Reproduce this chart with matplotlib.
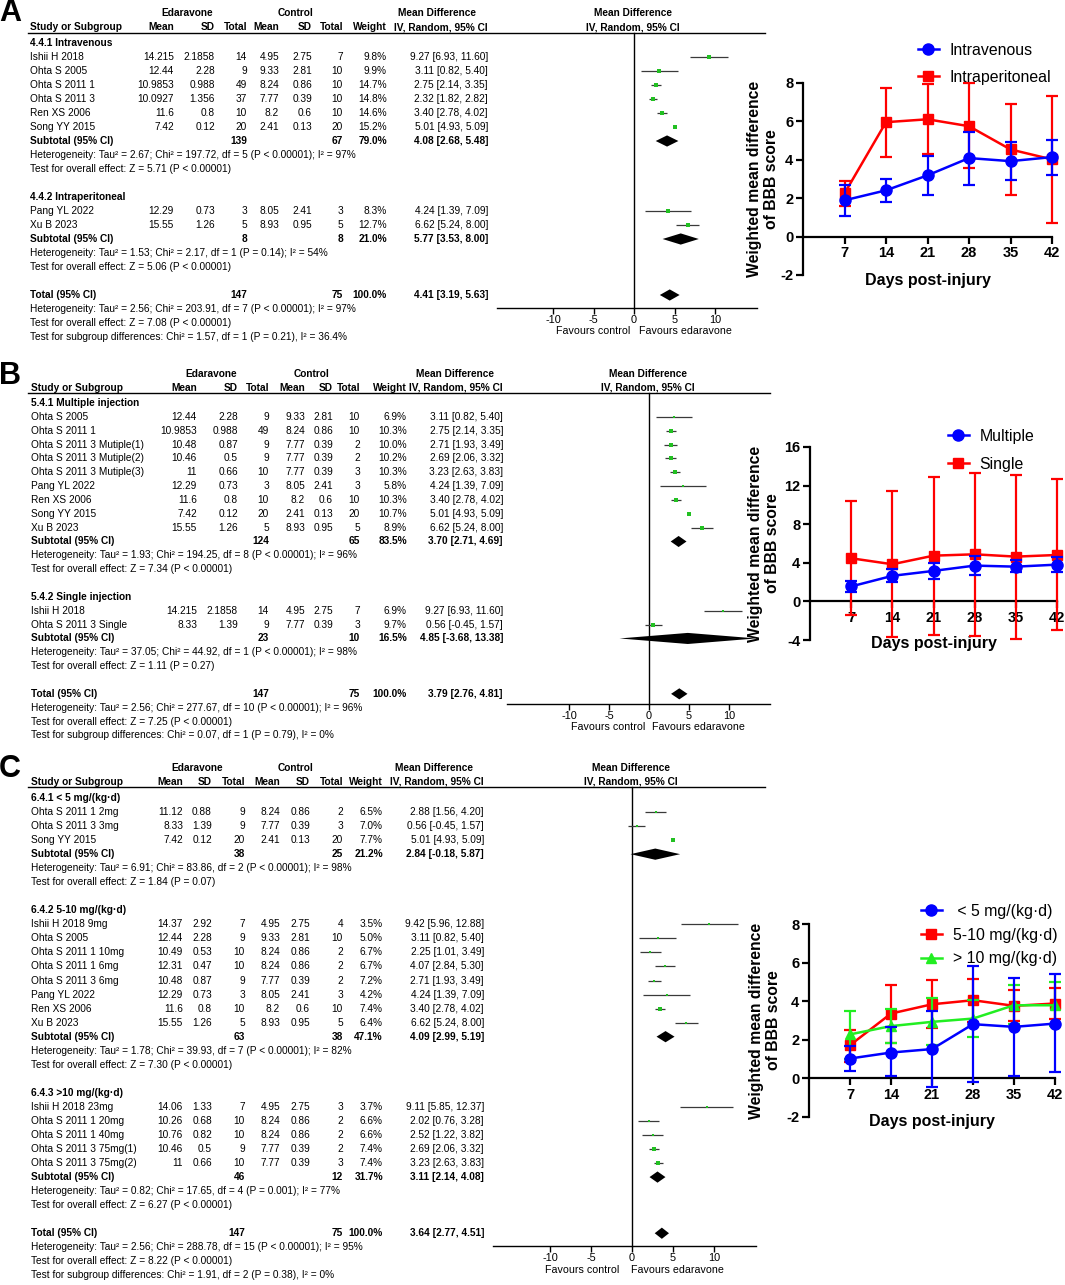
import matplotlib
matplotlib.use('Agg')
import matplotlib.pyplot as plt
from matplotlib import transforms
from matplotlib.lines import Line2D

plt.rcParams['font.family'] = ['Liberation Sans', 'DejaVu Sans']

#-----------------------------------------------------------------
#---                     Forest data                           ---
#-----------------------------------------------------------------
# (study, edaravone mean, sd, total, control mean, sd, total, weight %, MD, lower, upper)
a_iv_rows = [
    ("Ishii H 2018", 14.215, 2.1858, 14, 4.95, 2.75, 7, 9.8, 9.27, 6.93, 11.60),
    ("Ohta S 2005", 12.44, 2.28, 9, 9.33, 2.81, 10, 9.9, 3.11, 0.82, 5.40),
    ("Ohta S 2011 1", 10.9853, 0.988, 49, 8.24, 0.86, 10, 14.7, 2.75, 2.14, 3.35),
    ("Ohta S 2011 3", 10.0927, 1.356, 37, 7.77, 0.39, 10, 14.8, 2.32, 1.82, 2.82),
    ("Ren XS 2006", 11.6, 0.8, 10, 8.2, 0.6, 10, 14.6, 3.40, 2.78, 4.02),
    ("Song YY 2015", 7.42, 0.12, 20, 2.41, 0.13, 20, 15.2, 5.01, 4.93, 5.09),
]
a_iv_sub = (139, 67, 79.0, 4.08, 2.68, 5.48)
a_iv_notes = ("Heterogeneity: Tau² = 2.67; Chi² = 197.72, df = 5 (P < 0.00001); I² = 97%",
              "Test for overall effect: Z = 5.71 (P < 0.00001)")
a_ip_rows = [
    ("Pang YL 2022", 12.29, 0.73, 3, 8.05, 2.41, 3, 8.3, 4.24, 1.39, 7.09),
    ("Xu B 2023", 15.55, 1.26, 5, 8.93, 0.95, 5, 12.7, 6.62, 5.24, 8.00),
]
a_ip_sub = (8, 8, 21.0, 5.77, 3.53, 8.00)
a_ip_notes = ("Heterogeneity: Tau² = 1.53; Chi² = 2.17, df = 1 (P = 0.14); I² = 54%",
              "Test for overall effect: Z = 5.06 (P < 0.00001)")
a_total = (147, 75, 100.0, 4.41, 3.19, 5.63)
a_total_notes = ("Heterogeneity: Tau² = 2.56; Chi² = 203.91, df = 7 (P < 0.00001); I² = 97%",
                 "Test for overall effect: Z = 7.08 (P < 0.00001)",
                 "Test for subgroup differences: Chi² = 1.57, df = 1 (P = 0.21), I² = 36.4%")

b_mul_rows = [
    ("Ohta S 2005", 12.44, 2.28, 9, 9.33, 2.81, 10, 6.9, 3.11, 0.82, 5.40),
    ("Ohta S 2011 1", 10.9853, 0.988, 49, 8.24, 0.86, 10, 10.3, 2.75, 2.14, 3.35),
    ("Ohta S 2011 3 Mutiple(1)", 10.48, 0.87, 9, 7.77, 0.39, 2, 10.0, 2.71, 1.93, 3.49),
    ("Ohta S 2011 3 Mutiple(2)", 10.46, 0.5, 9, 7.77, 0.39, 2, 10.2, 2.69, 2.06, 3.32),
    ("Ohta S 2011 3 Mutiple(3)", 11, 0.66, 10, 7.77, 0.39, 3, 10.3, 3.23, 2.63, 3.83),
    ("Pang YL 2022", 12.29, 0.73, 3, 8.05, 2.41, 3, 5.8, 4.24, 1.39, 7.09),
    ("Ren XS 2006", 11.6, 0.8, 10, 8.2, 0.6, 10, 10.3, 3.40, 2.78, 4.02),
    ("Song YY 2015", 7.42, 0.12, 20, 2.41, 0.13, 20, 10.7, 5.01, 4.93, 5.09),
    ("Xu B 2023", 15.55, 1.26, 5, 8.93, 0.95, 5, 8.9, 6.62, 5.24, 8.00),
]
b_mul_sub = (124, 65, 83.5, 3.70, 2.71, 4.69)
b_mul_notes = ("Heterogeneity: Tau² = 1.93; Chi² = 194.25, df = 8 (P < 0.00001); I² = 96%",
               "Test for overall effect: Z = 7.34 (P < 0.00001)")
b_sin_rows = [
    ("Ishii H 2018", 14.215, 2.1858, 14, 4.95, 2.75, 7, 6.9, 9.27, 6.93, 11.60),
    ("Ohta S 2011 3 Single", 8.33, 1.39, 9, 7.77, 0.39, 3, 9.7, 0.56, -0.45, 1.57),
]
b_sin_sub = (23, 10, 16.5, 4.85, -3.68, 13.38)
b_sin_notes = ("Heterogeneity: Tau² = 37.05; Chi² = 44.92, df = 1 (P < 0.00001); I² = 98%",
               "Test for overall effect: Z = 1.11 (P = 0.27)")
b_total = (147, 75, 100.0, 3.79, 2.76, 4.81)
b_total_notes = ("Heterogeneity: Tau² = 2.56; Chi² = 277.67, df = 10 (P < 0.00001); I² = 96%",
                 "Test for overall effect: Z = 7.25 (P < 0.00001)",
                 "Test for subgroup differences: Chi² = 0.07, df = 1 (P = 0.79), I² = 0%")

c_lo_rows = [
    ("Ohta S 2011 1 2mg", 11.12, 0.88, 9, 8.24, 0.86, 2, 6.5, 2.88, 1.56, 4.20),
    ("Ohta S 2011 3 3mg", 8.33, 1.39, 9, 7.77, 0.39, 3, 7.0, 0.56, -0.45, 1.57),
    ("Song YY 2015", 7.42, 0.12, 20, 2.41, 0.13, 20, 7.7, 5.01, 4.93, 5.09),
]
c_lo_sub = (38, 25, 21.2, 2.84, -0.18, 5.87)
c_lo_notes = ("Heterogeneity: Tau² = 6.91; Chi² = 83.86, df = 2 (P < 0.00001); I² = 98%",
              "Test for overall effect: Z = 1.84 (P = 0.07)")
c_mid_rows = [
    ("Ishii H 2018 9mg", 14.37, 2.92, 7, 4.95, 2.75, 4, 3.5, 9.42, 5.96, 12.88),
    ("Ohta S 2005", 12.44, 2.28, 9, 9.33, 2.81, 10, 5.0, 3.11, 0.82, 5.40),
    ("Ohta S 2011 1 10mg", 10.49, 0.53, 10, 8.24, 0.86, 2, 6.7, 2.25, 1.01, 3.49),
    ("Ohta S 2011 1 6mg", 12.31, 0.47, 10, 8.24, 0.86, 2, 6.7, 4.07, 2.84, 5.30),
    ("Ohta S 2011 3 6mg", 10.48, 0.87, 9, 7.77, 0.39, 2, 7.2, 2.71, 1.93, 3.49),
    ("Pang YL 2022", 12.29, 0.73, 3, 8.05, 2.41, 3, 4.2, 4.24, 1.39, 7.09),
    ("Ren XS 2006", 11.6, 0.8, 10, 8.2, 0.6, 10, 7.4, 3.40, 2.78, 4.02),
    ("Xu B 2023", 15.55, 1.26, 5, 8.93, 0.95, 5, 6.4, 6.62, 5.24, 8.00),
]
c_mid_sub = (63, 38, 47.1, 4.09, 2.99, 5.19)
c_mid_notes = ("Heterogeneity: Tau² = 1.78; Chi² = 39.93, df = 7 (P < 0.00001); I² = 82%",
               "Test for overall effect: Z = 7.30 (P < 0.00001)")
c_hi_rows = [
    ("Ishii H 2018 23mg", 14.06, 1.33, 7, 4.95, 2.75, 3, 3.7, 9.11, 5.85, 12.37),
    ("Ohta S 2011 1 20mg", 10.26, 0.68, 10, 8.24, 0.86, 2, 6.6, 2.02, 0.76, 3.28),
    ("Ohta S 2011 1 40mg", 10.76, 0.82, 10, 8.24, 0.86, 2, 6.6, 2.52, 1.22, 3.82),
    ("Ohta S 2011 3 75mg(1)", 10.46, 0.5, 9, 7.77, 0.39, 2, 7.4, 2.69, 2.06, 3.32),
    ("Ohta S 2011 3 75mg(2)", 11, 0.66, 10, 7.77, 0.39, 3, 7.4, 3.23, 2.63, 3.83),
]
c_hi_sub = (46, 12, 31.7, 3.11, 2.14, 4.08)
c_hi_notes = ("Heterogeneity: Tau² = 0.82; Chi² = 17.65, df = 4 (P = 0.001); I² = 77%",
              "Test for overall effect: Z = 6.27 (P < 0.00001)")
c_total = (147, 75, 100.0, 3.64, 2.77, 4.51)
c_total_notes = ("Heterogeneity: Tau² = 2.56; Chi² = 288.78, df = 15 (P < 0.00001); I² = 95%",
                 "Test for overall effect: Z = 8.22 (P < 0.00001)",
                 "Test for subgroup differences: Chi² = 1.91, df = 2 (P = 0.38), I² = 0%")

md_ticks = [-10, -5, 0, 5, 10]

#-----------------------------------------------------------------
#---                     Time course data                      ---
#-----------------------------------------------------------------
days = [7, 14, 21, 28, 35, 42]

a_iv_mean = [1.89, 2.41, 3.19, 4.09, 3.93, 4.14]
a_iv_lo = [1.07, 1.80, 2.16, 2.68, 2.94, 3.22]
a_iv_hi = [2.70, 3.01, 4.22, 5.47, 4.92, 5.02]
a_ip_mean = [2.25, 5.96, 6.11, 5.75, 4.54, 4.02]
a_ip_lo = [1.60, 4.16, 4.28, 3.55, 2.16, 0.73]
a_ip_hi = [2.90, 7.76, 7.96, 7.98, 6.93, 7.32]

b_mul_mean = [1.55, 2.65, 3.16, 3.71, 3.60, 3.81]
b_mul_lo = [0.93, 1.96, 2.34, 2.75, 3.06, 3.06]
b_mul_hi = [2.10, 3.33, 3.95, 4.74, 4.30, 4.64]
b_sin_mean = [4.47, 3.85, 4.74, 4.88, 4.64, 4.81]
b_sin_lo = [-1.40, -3.70, -3.44, -3.60, -3.88, -2.92]
b_sin_hi = [10.38, 11.48, 12.90, 13.33, 13.13, 12.65]

c_lo_mean = [1.03, 1.34, 1.52, 2.81, 2.67, 2.84]
c_lo_lo = [0.38, 0.12, -0.43, -0.17, 0.14, 0.31]
c_lo_hi = [1.70, 2.64, 3.48, 5.84, 5.22, 5.43]
c_mid_mean = [1.72, 3.36, 3.84, 4.05, 3.76, 3.88]
c_mid_lo = [0.86, 1.86, 2.59, 2.93, 2.97, 3.10]
c_mid_hi = [2.53, 4.83, 5.09, 5.17, 4.57, 4.67]
c_hi_mean = [2.28, 2.71, 2.93, 3.10, 3.79, 3.79]
c_hi_lo = [1.03, 1.81, 1.72, 2.14, 2.84, 2.70]
c_hi_hi = [3.50, 3.62, 4.14, 4.06, 4.86, 5.00]

#-----------------------------------------------------------------
#---                     Layout (pixels)                       ---
#-----------------------------------------------------------------
W, H = 1065, 1285
TABLE_FS = 7.3
GREEN = '#22c022'
CI_GRAY = '#3a3a3a'

geo_a = dict(row0=43, dy=14.0, h1=13, h2=27, hline=32.5, hl_x0=28, hl_x1=765, sx=30,
             cols=[174, 215, 247, 279, 312, 343, 387, 488], ed_c=187, ct_c=296, md_c=437,
             zero=634, ppu=8.1, axis_y=308, xl=497, xr=757, fc=633,
             fav_y=331, fav_l=593, fav_r=685, letter=('A', 10, 13))
geo_b = dict(row0=403, dy=13.85, h1=374, h2=388, hline=393, hl_x0=28, hl_x1=770, sx=31,
             cols=[197, 238, 269, 305, 333, 360, 407, 503], ed_c=211, ct_c=312, md_c=455,
             zero=649, ppu=8.0, axis_y=704, xl=507, xr=770, fc=648,
             fav_y=727, fav_l=608, fav_r=698, letter=('B', 10, 376))
geo_c = dict(row0=798, dy=14.04, h1=768, h2=782, hline=787, hl_x0=28, hl_x1=765, sx=31,
             cols=[183, 212, 245, 280, 310, 343, 383, 484], ed_c=197, ct_c=295, md_c=434,
             zero=632, ppu=8.2, axis_y=1246, xl=493, xr=756, fc=631,
             fav_y=1270, fav_l=582, fav_r=677, letter=('C', 10, 769))

fig = plt.figure(figsize=(W / 100, H / 100), dpi=100)


def ci_text(md, lo, hi):
    return '%.2f [%.2f, %.2f]' % (md, lo, hi)


def forest_panel(g, groups, total, total_notes):
    ax = fig.add_axes([g['xl'] / W, 1 - g['axis_y'] / H,
                       (g['xr'] - g['xl']) / W, (g['axis_y'] - g['hline']) / H])
    row = lambda py: (py - g['row0']) / g['dy']
    ax.set_xlim((g['xl'] - g['zero']) / g['ppu'], (g['xr'] - g['zero']) / g['ppu'])
    ax.set_ylim(row(g['axis_y']), row(g['hline']))
    ax.patch.set_visible(False)
    for s in ['top', 'left', 'right']:
        ax.spines[s].set_visible(False)
    ax.spines['bottom'].set_linewidth(1.0)
    ax.set_yticks([])
    ax.set_xticks(md_ticks)
    ax.set_xticklabels([str(t) for t in md_ticks])
    ax.tick_params(axis='x', length=4, width=1, pad=1, labelsize=TABLE_FS + 0.6)
    ax.plot([0, 0], [row(g['hline']), row(g['axis_y'])], color='k', lw=1, clip_on=False)

    tr = transforms.blended_transform_factory(fig.transFigure, ax.transData)

    def put(px, r, s, ha='left', bold=False):
        ax.text(px / W, r, s, transform=tr, ha=ha, va='center', fontsize=TABLE_FS,
                fontweight='bold' if bold else 'normal', clip_on=False)

    cols = g['cols']
    sx = g['sx']
    # header
    ax.plot([g['hl_x0'] / W, g['hl_x1'] / W], [row(g['hline'])] * 2, transform=tr,
            color='k', lw=1, clip_on=False)
    r1, r2 = row(g['h1']), row(g['h2'])
    put(g['ed_c'], r1, 'Edaravone', ha='center', bold=True)
    put(g['ct_c'], r1, 'Control', ha='center', bold=True)
    put(g['md_c'], r1, 'Mean Difference', ha='center', bold=True)
    put(g['fc'], r1, 'Mean Difference', ha='center', bold=True)
    put(sx, r2, 'Study or Subgroup', bold=True)
    for px, s in zip(cols, ['Mean', 'SD', 'Total', 'Mean', 'SD', 'Total', 'Weight',
                            'IV, Random, 95% CI']):
        put(px, r2, s, ha='right', bold=True)
    put(g['fc'], r2, 'IV, Random, 95% CI', ha='center', bold=True)

    def pooled(r, label, vals):
        ne, nc, w, md, lo, hi = vals
        put(sx, r, label, bold=True)
        put(cols[2], r, str(ne), ha='right', bold=True)
        put(cols[5], r, str(nc), ha='right', bold=True)
        put(cols[6], r, '%.1f%%' % w, ha='right', bold=True)
        put(cols[7], r, ci_text(md, lo, hi), ha='right', bold=True)
        ax.fill([lo, md, hi, md], [r, r - 0.4, r, r + 0.4], color='k', lw=0)

    r = 0
    for name, rows, sub, notes in groups:
        put(sx, r, name, bold=True)
        r += 1
        for study, em, esd, en, cm, csd, cn, w, md, lo, hi in rows:
            put(sx, r, study)
            for px, v in zip(cols[:6], (em, esd, en, cm, csd, cn)):
                put(px, r, str(v), ha='right')
            put(cols[6], r, '%.1f%%' % w, ha='right')
            put(cols[7], r, ci_text(md, lo, hi), ha='right')
            ax.plot([lo, hi], [r, r], color=CI_GRAY, lw=0.9, solid_capstyle='butt')
            ax.plot([md], [r], 's', color=GREEN, ms=1.2 + 0.13 * w, mew=0)
            r += 1
        pooled(r, 'Subtotal (95% CI)', sub)
        r += 1
        for note in notes:
            put(sx, r, note)
            r += 1
        r += 1
    pooled(r, 'Total (95% CI)', total)
    r += 1
    for note in total_notes:
        put(sx, r, note)
        r += 1

    fig.text(g['fav_l'] / W, 1 - g['fav_y'] / H, 'Favours control', ha='center',
             va='center', fontsize=TABLE_FS + 0.4)
    fig.text(g['fav_r'] / W, 1 - g['fav_y'] / H, 'Favours edaravone', ha='center',
             va='center', fontsize=TABLE_FS + 0.4)
    letter, lx, ly = g['letter']
    fig.text(lx / W, 1 - ly / H, letter, ha='center', va='center', fontsize=22,
             fontweight='bold')


def course_panel(box, ylim, yticks, series, leg_xy, ylab_x, xlab_y, labelspacing):
    left, right, top, bottom = box
    ax = fig.add_axes([left / W, 1 - bottom / H, (right - left) / W, (bottom - top) / H])
    ax.set_xlim(0, 42)
    ax.set_ylim(*ylim)
    ax.patch.set_visible(False)
    ax.spines['top'].set_visible(False)
    ax.spines['right'].set_visible(False)
    ax.spines['left'].set_linewidth(1.6)
    ax.spines['bottom'].set_linewidth(1.6)
    ax.spines['bottom'].set_position(('data', 0))
    ax.set_xticks(days)
    ax.set_xticklabels([str(d) for d in days], fontweight='bold')
    ax.set_yticks(yticks)
    ax.set_yticklabels([str(t) for t in yticks], fontweight='bold')
    ax.tick_params(width=1.6, length=5, labelsize=10.5, pad=2)
    ax.set_xlabel('Days post-injury', fontsize=11.5, fontweight='bold')
    ax.xaxis.set_label_coords(0.5, xlab_y)
    ax.set_ylabel('Weighted mean difference\nof BBB score', fontsize=11.3,
                  fontweight='bold', linespacing=1.15)
    ax.yaxis.set_label_coords(ylab_x, 0.5)

    handles, labels = [], []
    for lab, mean, lo, hi, color, marker, ms, z in series:
        err = [[m - l for m, l in zip(mean, lo)], [h - m for m, h in zip(mean, hi)]]
        cont = ax.errorbar(days, mean, yerr=err, color=color, marker=marker, ms=ms,
                           lw=1.8, elinewidth=1.6, capsize=4.5, capthick=1.6, zorder=z)
        line, caps, bars = cont.lines
        line.set_clip_on(False)
        for c in caps:
            c.set_clip_on(False)
        for b in bars:
            b.set_clip_on(False)
        handles.append(Line2D([], [], color=color, marker=marker, ms=ms, lw=1.8))
        labels.append(lab)
    fig.legend(handles, labels, loc='upper left',
               bbox_to_anchor=(leg_xy[0] / W, 1 - leg_xy[1] / H), frameon=False,
               fontsize=11.4, handlelength=1.3, handletextpad=0.7,
               labelspacing=labelspacing, borderpad=0, borderaxespad=0)


forest_panel(geo_a,
             [("4.4.1 Intravenous", a_iv_rows, a_iv_sub, a_iv_notes),
              ("4.4.2 Intraperitoneal", a_ip_rows, a_ip_sub, a_ip_notes)],
             a_total, a_total_notes)
forest_panel(geo_b,
             [("5.4.1 Multiple injection", b_mul_rows, b_mul_sub, b_mul_notes),
              ("5.4.2 Single injection", b_sin_rows, b_sin_sub, b_sin_notes)],
             b_total, b_total_notes)
forest_panel(geo_c,
             [("6.4.1 < 5 mg/(kg·d)", c_lo_rows, c_lo_sub, c_lo_notes),
              ("6.4.2 5-10 mg/(kg·d)", c_mid_rows, c_mid_sub, c_mid_notes),
              ("6.4.3 >10 mg/(kg·d)", c_hi_rows, c_hi_sub, c_hi_notes)],
             c_total, c_total_notes)

course_panel((803, 1052, 83, 275), (-2, 8), [-2, 0, 2, 4, 6, 8],
             [("Intravenous", a_iv_mean, a_iv_lo, a_iv_hi, '#0000ff', 'o', 8, 4),
              ("Intraperitoneal", a_ip_mean, a_ip_lo, a_ip_hi, '#ff0000', 's', 7, 3)],
             (918, 43), -0.096, 0.01, 0.75)
course_panel((810, 1057, 447, 640), (-4, 16), [-4, 0, 4, 8, 12, 16],
             [("Multiple", b_mul_mean, b_mul_lo, b_mul_hi, '#0000ff', 'o', 8, 4),
              ("Single", b_sin_mean, b_sin_lo, b_sin_hi, '#ff0000', 's', 7, 3)],
             (948, 429), -0.121, 0.02, 0.8)
course_panel((809, 1055, 924, 1117), (-2, 8), [-2, 0, 2, 4, 6, 8],
             [(" < 5 mg/(kg·d)", c_lo_mean, c_lo_lo, c_lo_hi, '#0000ff', 'o', 8, 5),
              ("5-10 mg/(kg·d)", c_mid_mean, c_mid_lo, c_mid_hi, '#ff0000', 's', 7, 3),
              ("> 10 mg/(kg·d)", c_hi_mean, c_hi_lo, c_hi_hi, '#22ee22', '^', 7, 4)],
             (921, 904), -0.114, 0.015, 0.55)

fig.savefig('out.png', dpi=100)
